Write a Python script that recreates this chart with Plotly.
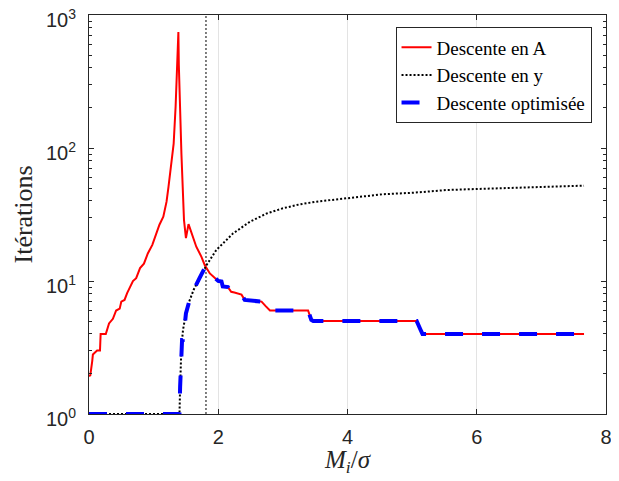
import plotly.graph_objects as go

# ---- Data ----
x_A = [0.00, 0.02, 0.05, 0.06, 0.125, 0.17, 0.18, 0.26, 0.31, 0.37, 0.42, 0.475, 0.50, 0.55,
       0.59, 0.63, 0.68, 0.73, 0.79, 0.85, 0.91, 0.98, 1.04, 1.09, 1.15, 1.20, 1.23, 1.27,
       1.31, 1.34, 1.36, 1.383, 1.39, 1.41, 1.43, 1.47, 1.50, 1.54, 1.585, 1.66, 1.74, 1.79,
       1.87, 1.95, 2.00, 2.05, 2.07, 2.15, 2.20, 2.25, 2.30, 2.36, 2.41, 2.67, 2.73, 2.80,
       3.39, 3.44, 3.47, 5.07, 5.13, 5.16, 7.66]
y_A = [1.93, 1.95, 2.5, 2.8, 3.0, 3.0, 4.0, 4.0, 4.8, 5.2, 6.0, 6.2, 7.0, 7.2,
       8.1, 8.8, 10.0, 10.5, 12.5, 13.5, 16.1, 18.7, 22.8, 26.5, 30.4, 39.5, 51, 72,
       108, 204, 385, 745, 420, 160, 91, 28.7, 21, 26.8, 22.8, 18.1, 15.2, 13.2,
       11.4, 10.5, 10.0, 9.9, 9.1, 9.0, 8.3, 8.2, 8.1, 7.9, 7.2, 7.0, 6.5, 6.0,
       6.0, 5.1, 5.0, 5.0, 4.3, 4.0, 4.0]

x_y = [0.00, 1.40, 1.41, 1.42, 1.43, 1.455, 1.50, 1.55, 1.62, 1.71, 1.79, 1.82, 1.97, 2.02,
       2.17, 2.23, 2.49, 2.75, 3.00, 3.26, 3.52, 3.99, 4.55, 5.02, 5.53, 6.00, 6.56, 7.08,
       7.66]
y_y = [1.0, 1.0, 1.6, 2.27, 3.2, 4.3, 5.7, 7.0, 8.6, 10.5, 12.6, 13.2, 17.1, 18.1,
       21.5, 22.8, 27.9, 32.2, 35.2, 37.7, 39.5, 41.8, 44.9, 46.1, 48.3, 49.2, 50.2, 50.9,
       52.1]

x_opt = [0.00, 1.40, 1.41, 1.42, 1.43, 1.44, 1.45, 1.46, 1.48, 1.50, 1.55, 1.62, 1.71, 1.80,
         1.87, 1.95, 2.00, 2.05, 2.07, 2.15, 2.20, 2.25, 2.30, 2.36, 2.41, 2.67, 2.73, 2.80,
         3.39, 3.44, 3.47, 5.07, 5.13, 5.16, 7.66]
y_opt = [1.0, 1.0, 1.6, 2.2, 3.3, 3.6, 3.6, 4.4, 4.6, 5.7, 7.0, 8.6, 10.5, 12.8,
         11.4, 10.5, 10.0, 9.9, 9.1, 9.0, 8.3, 8.2, 8.1, 7.9, 7.2, 7.0, 6.5, 6.0,
         6.0, 5.1, 5.0, 5.0, 4.3, 4.0, 4.0]

threshold = 1.81
x_ticks = [0, 2, 4, 6, 8]
y_ticks = [1, 10, 100, 1000]
y_ticktext = ["10<sup>0</sup>", "10<sup>1</sup>", "10<sup>2</sup>", "10<sup>3</sup>"]
names = ["Descente en A", "Descente en y", "Descente optimisée"]
x_title = "<i>M</i><sub><i>i</i></sub>/<i>σ</i>"
y_title = "Itérations"

AX = "#262626"
SERIF = "Liberation Serif"
SANS = "Liberation Sans"

minor_vals = [m * d for d in (1, 10, 100) for m in range(2, 10)]

fig = go.Figure()
fig.add_trace(go.Scatter(x=x_A, y=y_A, mode="lines", name=names[0],
                         line=dict(color="#ff0000", width=2)))
fig.add_trace(go.Scatter(x=x_y, y=y_y, mode="lines", name=names[1],
                         line=dict(color="#000000", width=2, dash="2px,2px")))
fig.add_trace(go.Scatter(x=x_opt, y=y_opt, mode="lines", name=names[2],
                         line=dict(color="#0000ff", width=4, dash="18px,19px")))

fig.add_shape(type="line", xref="x", yref="paper", x0=threshold, x1=threshold, y0=0, y1=1,
              line=dict(color="#555555", width=1.5, dash="2px,2px"), layer="below")

# axis titles as annotations for precise placement
fig.add_annotation(text=y_title, xref="paper", yref="paper", x=0, y=0.5,
                   xanchor="center", yanchor="middle", xshift=-66, textangle=-90,
                   showarrow=False, font=dict(family=SERIF, size=26, color=AX))
fig.add_annotation(text=x_title, xref="paper", yref="paper", x=0.5, y=0,
                   xanchor="center", yanchor="middle", yshift=-47,
                   showarrow=False, font=dict(family=SERIF, size=25, color=AX))

# page body has an 8px margin, so the figure is shifted by (8, 8)
fig.update_layout(
    width=611, height=473,
    margin=dict(l=81, r=13, t=7, b=67, autoexpand=False),
    plot_bgcolor="white", paper_bgcolor="white",
    showlegend=True,
    legend=dict(x=0.972, y=0.969, xanchor="right", yanchor="top",
                bgcolor="white", bordercolor=AX, borderwidth=1,
                font=dict(family=SERIF, size=19, color="#000000"),
                tracegroupgap=0, itemwidth=30),
    xaxis=dict(range=[0, 8], tickvals=x_ticks, ticks="inside", ticklen=5,
               tickcolor=AX, showline=True, linecolor=AX, linewidth=1, mirror="ticks",
               showgrid=True, gridcolor="#e3e3e3", gridwidth=1, zeroline=False,
               automargin=False, ticklabelstandoff=5, ticklabeloverflow="allow",
               tickfont=dict(family=SANS, size=20, color=AX)),
    yaxis=dict(type="log", range=[0, 3], tickvals=y_ticks, ticktext=y_ticktext,
               ticks="inside", ticklen=5, tickcolor=AX, showline=True, linecolor=AX,
               linewidth=1, mirror="ticks", showgrid=False, zeroline=False,
               automargin=False, ticklabelstandoff=8, ticklabeloverflow="allow",
               ticklabelshift=5,
               minor=dict(tickvals=minor_vals, ticks="inside", ticklen=3,
                          tickcolor=AX, showgrid=False),
               tickfont=dict(family=SANS, size=20, color=AX)),
)

fig.write_html("out.html")
